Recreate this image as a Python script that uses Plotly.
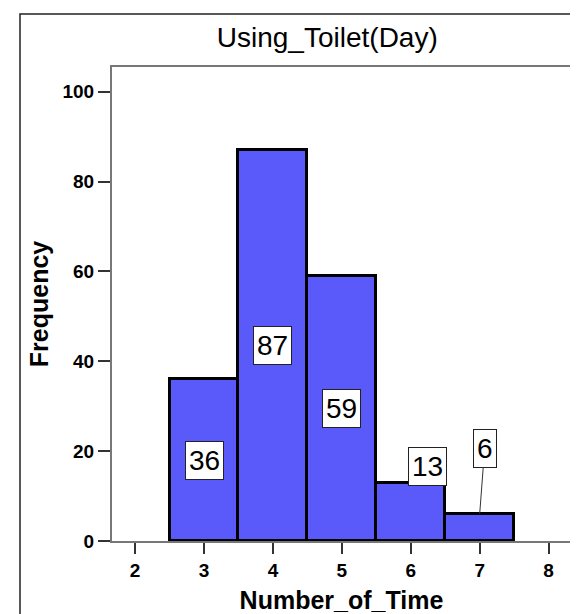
import plotly.graph_objects as go

# histogram data
times = [3, 4, 5, 6, 7]
counts = [36, 87, 59, 13, 6]
x_ticks = [2, 3, 4, 5, 6, 7, 8]
y_ticks = [0, 20, 40, 60, 80, 100]

fig = go.Figure()
fig.add_trace(go.Bar(
    x=times, y=counts, width=1,
    marker=dict(color='#5a5afa', line=dict(color='black', width=3)),
    hoverinfo='x+y'))

# value labels (white boxes); the last two are nudged like in the original
annots = []
for t, c in zip(times, counts):
    a = dict(x=t, y=c / 2, text=str(c), showarrow=False,
             font=dict(family='Arial, Liberation Sans', size=28, color='black'),
             bgcolor='white', bordercolor='#222', borderwidth=1, borderpad=3)
    if c == 13:
        a.update(x=t + 0.24, y=16.5)
    if c == 6:
        a.update(y=c, showarrow=True, arrowhead=0, arrowwidth=1,
                 arrowcolor='#333', ax=5, ay=-66)
    annots.append(a)

tick_font = dict(family='Liberation Sans Narrow, Arial Narrow, Arial', size=19,
                 color='black', weight='bold')

fig.update_layout(
    width=578, height=614,
    margin=dict(l=104, r=15, t=59, b=81),
    plot_bgcolor='white', paper_bgcolor='white',
    showlegend=False, bargap=0,
    title=dict(text='Using_Toilet(Day)', x=0.469, xref='paper', xanchor='center',
               y=1 - 29 / 614, yanchor='middle',
               font=dict(family='Arial, Liberation Sans', size=28, color='black')),
    xaxis=dict(range=[1.665, 8.325], tickvals=x_ticks, ticks='outside', ticklen=11,
               tickwidth=2, tickcolor='#333', showgrid=False, zeroline=False,
               showline=True, linecolor='#777', linewidth=2, mirror=True,
               tickfont=tick_font,
               title=dict(text='Number_of_Time', standoff=12,
                          font=dict(family='Arial, Liberation Sans', size=25, color='black', weight='bold'))),
    yaxis=dict(range=[0, 105.5], tickvals=y_ticks, ticks='outside', ticklen=12,
               tickwidth=2, tickcolor='#333', showgrid=False, zeroline=False,
               showline=True, linecolor='#777', linewidth=2, mirror=True,
               tickfont=tick_font,
               title=dict(text='Frequency', standoff=7,
                          font=dict(family='Arial, Liberation Sans', size=25, color='black', weight='bold'))),
    annotations=annots,
    shapes=[dict(type='rect', xref='paper', yref='paper',
                 x0=(12 - 104) / 459, x1=(576 - 104) / 459,
                 y0=-0.2, y1=1 + (59 - 6) / 474,
                 line=dict(color='#222', width=1.5), layer='below')],
)

fig.write_html('out.html')
